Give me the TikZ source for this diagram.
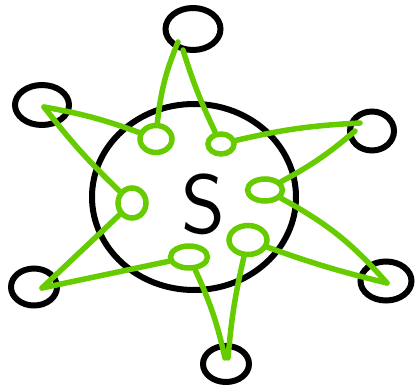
\documentclass[tikz,border=0pt]{standalone}
\usetikzlibrary{shapes.geometric,positioning}
\definecolor{grn}{HTML}{66CC00}

\begin{document}
\begin{tikzpicture}[x=1pt, y=-1pt,
every edge/.append style = {draw=grn, line width=5.5pt, line cap=round},
  hub/.style = {ellipse, draw, line width=6pt, inner sep=0pt,
                minimum width=204pt, minimum height=186pt},
outer/.style = {ellipse, draw, line width=6pt, inner sep=0pt},
inner/.style = {ellipse, draw=grn, line width=5.5pt, inner sep=0pt}
]
\useasboundingbox (0,0) rectangle (415,391);
% server in the middle
\node (S) [hub] at (194,197) {};
\node (St) at (203,204) {\fontsize{84}{84}\sffamily S};
% outer ring
\node (O1) [outer, minimum width=55pt, minimum height=42pt] at (193,29)  {};
\node (O2) [outer, minimum width=54pt, minimum height=40pt] at (42,105)  {};
\node (O3) [outer, minimum width=44pt, minimum height=39pt] at (372,131) {};
\node (O4) [outer, minimum width=46pt, minimum height=37pt] at (34,287)  {};
\node (O5) [outer, minimum width=51pt, minimum height=39pt] at (386,281) {};
\node (O6) [outer, minimum width=46pt, minimum height=36pt] at (226,364) {};
% green ports
\node (G1) [inner, minimum width=32pt, minimum height=27pt] at (156,139) {};
\node (G2) [inner, minimum width=26pt, minimum height=20pt] at (221,144) {};
\node (G3) [inner, minimum width=35pt, minimum height=22pt] at (265,190) {};
\node (G4) [inner, minimum width=38pt, minimum height=29pt] at (248,240) {};
\node (G5) [inner, minimum width=37pt, minimum height=22pt] at (189,257) {};
\node (G6) [inner, minimum width=28pt, minimum height=30pt] at (132,203) {};
\path
        (G1) edge [bend left=8]  ([shift={(-15,13)}]O1.center)
        (G2) edge [bend left=4]  ([shift={(-10,21)}]O1.center)
        (G2) edge [bend left=5]  ([shift={(-12,-8)}]O3.center)
        (G3) edge [bend right=6] ([shift={(-17,0)}]O3.center)
        (G3) edge [bend left=10] ([shift={(1,2)}]O5.center)
        (G4) edge [bend right=3] ([shift={(1,2)}]O5.center)
        (G4) edge [bend right=4] ([shift={(2,-6)}]O6.center)
        (G5) edge [bend left=6]  ([shift={(-1,-6)}]O6.center)
        (G5) edge                ([shift={(8,1)}]O4.center)
        (G6) edge                ([shift={(8,1)}]O4.center)
        (G6) edge [bend left=4]  ([shift={(2,2)}]O2.center)
        (G1) edge [bend right=5] ([shift={(2,2)}]O2.center);
\end{tikzpicture}
\end{document}
